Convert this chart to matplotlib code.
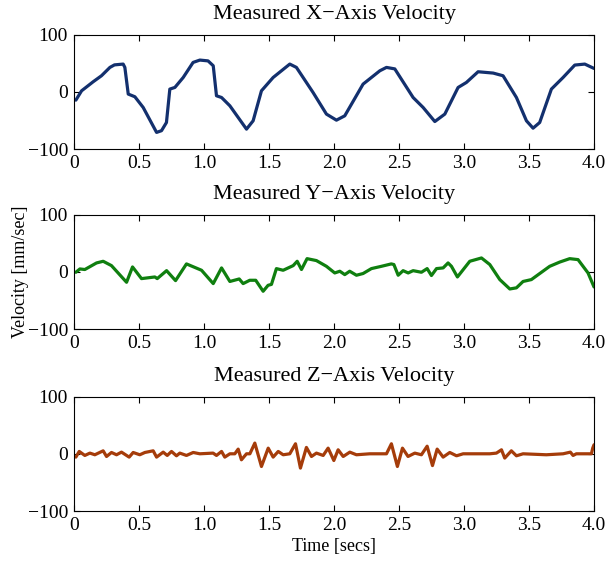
import numpy as np
import matplotlib
matplotlib.use('Agg')
import matplotlib.pyplot as plt

plt.rcParams['font.family'] = ['Liberation Serif', 'DejaVu Serif']
plt.rcParams['font.size'] = 14

# measured velocities [mm/sec] sampled over time [secs]
x_t = [0.013, 0.057, 0.146, 0.21, 0.275, 0.31, 0.377, 0.39, 0.416, 0.467, 0.531, 0.634, 0.672,
       0.71, 0.736, 0.775, 0.839, 0.915, 0.967, 1.03, 1.07, 1.095, 1.134, 1.198, 1.326,
       1.377, 1.441, 1.531, 1.659, 1.71, 1.838, 1.941, 2.018, 2.082, 2.223, 2.352, 2.403,
       2.467, 2.608, 2.685, 2.775, 2.852, 2.954, 3.018, 3.108, 3.224, 3.3, 3.403, 3.48,
       3.531, 3.582, 3.672, 3.762, 3.852, 3.929, 4.0]
x_v = [-14.6, 1.7, 17.5, 28, 42.6, 47, 48.4, 42.6, -4, -8.7, -27.4, -71, -68,
       -53.7, 4.7, 7.6, 25, 51.3, 55.4, 54, 45.5, -7, -10, -24.5, -65.3,
       -50.7, 1.7, 25, 48.4, 42.6, -1.2, -39, -49.6, -42, 13.4, 36.7, 42.6,
       40, -10, -27.4, -52, -39, 7.5, 16.3, 35, 32.7, 28, -10, -50.7,
       -63.6, -53.7, 4.7, 25, 46.7, 48.4, 40.8]

y_t = [0.013, 0.044, 0.082, 0.172, 0.223, 0.287, 0.403, 0.449, 0.518, 0.621, 0.639, 0.711,
       0.78, 0.864, 0.98, 1.07, 1.134, 1.198, 1.27, 1.3, 1.351, 1.397, 1.454, 1.492,
       1.518, 1.556, 1.608, 1.685, 1.716, 1.749, 1.792, 1.864, 1.941, 2.005, 2.044, 2.082,
       2.12, 2.172, 2.223, 2.287, 2.364, 2.44, 2.46, 2.493, 2.531, 2.57, 2.608, 2.672,
       2.716, 2.749, 2.788, 2.839, 2.877, 2.903, 2.949, 3.044, 3.134, 3.198, 3.275, 3.352,
       3.403, 3.454, 3.518, 3.659, 3.736, 3.813, 3.877, 3.954, 4.0]
y_v = [-0.8, 5, 4, 15.5, 18.4, 10.8, -18.3, 8.5, -11.9, -9, -11.9, 2,
       -15.4, 13.8, 2.7, -20.6, 6.8, -16.9, -12.5, -20.6, -14.8, -14.8, -34, -23.6,
       -22, 5.6, 2.7, 10.8, 18.4, 4, 23, 19.6, 9.6, -2, 1, -4.9,
       1, -6, -3, 5.6, 9.6, 13.8, 12.7, -6, 2, -2, 2, -0.8,
       5.6, -6.5, 5.6, 6.8, 15.5, 9.6, -9, 18.4, 24.2, 12.7, -13.6, -30,
       -28, -16.9, -13.6, 9.6, 17, 23, 21.3, -2, -26.5]

z_t = [0.013, 0.039, 0.082, 0.121, 0.159, 0.223, 0.249, 0.287, 0.326, 0.364, 0.423, 0.454,
       0.505, 0.544, 0.608, 0.634, 0.685, 0.716, 0.749, 0.787, 0.813, 0.864, 0.916, 0.967,
       1.069, 1.095, 1.134, 1.159, 1.198, 1.236, 1.262, 1.287, 1.326, 1.352, 1.39, 1.441,
       1.493, 1.531, 1.57, 1.608, 1.659, 1.703, 1.741, 1.787, 1.826, 1.864, 1.916, 1.954,
       1.998, 2.031, 2.07, 2.121, 2.172, 2.275, 2.403, 2.441, 2.487, 2.526, 2.569, 2.621,
       2.672, 2.716, 2.757, 2.793, 2.839, 2.89, 2.942, 2.993, 3.198, 3.249, 3.288, 3.313,
       3.364, 3.403, 3.454, 3.633, 3.762, 3.818, 3.839, 3.864, 3.98, 3.99, 4.0]
z_v = [-5.8, 4.1, -2.9, 1.2, -1.7, 5.2, -4.7, 2.3, -1.7, 2.9, -5.8, 2.3,
       -1.7, 2.3, 5.2, -5.8, 2.9, -2.9, 4.1, -3.5, 1.2, -2.9, 2.3, 0,
       1.2, -2.9, 4.1, -5.8, 0, 0, 8.2, -10.5, 0, 0, 18.7, -22.2,
       9.9, -5.8, 4.1, -1.7, 0, 17.5, -25, 11.1, -4.7, 1.2, -2.9, 9.9,
       -11.7, 7, -4.7, 2.9, -1.7, 0, 0, 17.5, -22.2, 9.9, -4.7, 1.2,
       -1.7, 13.3, -20.6, 8.2, -5.8, 2.3, -3.5, 0, 0, 1.2, 7, -7.5,
       5.2, -3.5, 0, -1.7, 0, 2.9, -2.9, 0, 0, 9.9, 15.8]

titles = ['Measured X\u2212Axis Velocity', 'Measured Y\u2212Axis Velocity',
          'Measured Z\u2212Axis Velocity']
colors = ['#13306e', '#0f7f0f', '#a53c0a']
series = [(x_t, x_v), (y_t, y_v), (z_t, z_v)]
bottoms = [0.7344, 0.4135, 0.0891]

fig = plt.figure(figsize=(6.08, 5.61), dpi=100)
for i in range(3):
    ax = fig.add_axes([0.122, bottoms[i], 0.855, 0.204])
    t, v = series[i]
    ax.plot(t, v, color=colors[i], lw=2.3, solid_capstyle='round', solid_joinstyle='round')
    ax.set_xlim(0, 4)
    ax.set_ylim(-100, 100)
    ax.set_xticks(np.arange(0, 4.01, 0.5))
    ax.set_xticklabels(['0', '0.5', '1.0', '1.5', '2.0', '2.5', '3.0', '3.5', '4.0'])
    ax.set_yticks([-100, 0, 100])
    ax.tick_params(direction='in', top=True, right=True, length=4, width=0.8, pad=4.5,
                   labelsize=14)
    ax.set_title(titles[i], fontsize=16, pad=11)
    if i == 1:
        ax.set_ylabel('Velocity [mm/sec]', fontsize=13, labelpad=-1)
    if i == 2:
        ax.set_xlabel('Time [secs]', fontsize=13, labelpad=3)

plt.savefig('out.png', dpi=100)
plt.close()
